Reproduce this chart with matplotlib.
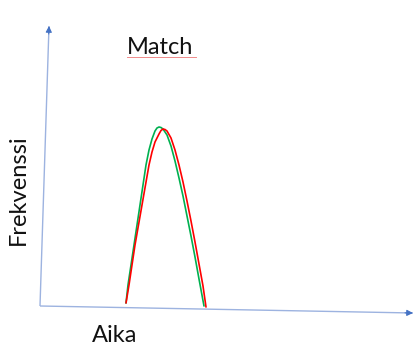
import matplotlib
matplotlib.use("Agg")
import matplotlib.pyplot as plt

# values (origin = axis corner, units ~ pixels)
green_x = [86, 88, 91, 94, 97, 100, 103, 106, 109, 112, 115, 117, 119, 121, 123, 127, 131, 135, 139, 143, 147, 151, 155, 159, 164]
green_y = [3, 21, 41, 61, 81, 101, 121, 141, 156, 167, 175, 178, 179, 178.5, 177, 171, 160, 145, 128, 110, 90, 70, 49, 27, 0]

red_x = [86, 89, 92, 95, 98.5, 102, 105.5, 109, 112, 115, 119, 121, 123, 125, 127, 131, 135, 139, 143, 147, 151, 155, 159, 163, 166]
red_y = [3, 21, 41, 61, 81, 101, 121, 141, 154, 164, 172, 175.5, 177, 176.5, 175, 168, 156, 141, 124, 105, 85, 64, 42, 20, -1]

# hand-drawn axis arrows (start, tip)
y_axis = [(0, 0), (9, 280)]
x_axis = [(0, 0), (373, -7)]

title = "Match"
xlabel = "Aika"
ylabel = "Frekvenssi"

AXIS_LINE = "#9DB3E0"
AXIS_HEAD = "#4472C4"
FONT = ["Lato", "DejaVu Sans"]

fig = plt.figure(figsize=(4.14, 3.45), dpi=100)
ax = fig.add_axes([0, 0, 1, 1])
ax.set_xlim(-40, 374)
ax.set_ylim(-39, 306)
ax.axis("off")


def draw_arrow(seg):
    (x0, y0), (x1, y1) = seg
    ax.plot([x0, x1], [y0, y1], color=AXIS_LINE, lw=1.0, solid_capstyle="butt")
    dx, dy = x1 - x0, y1 - y0
    n = (dx * dx + dy * dy) ** 0.5
    ax.annotate("", xy=(x1, y1), xytext=(x1 - dx / n * 8, y1 - dy / n * 8),
                arrowprops=dict(arrowstyle="-|>", color=AXIS_HEAD, lw=0.8,
                                mutation_scale=9, shrinkA=0, shrinkB=0))


draw_arrow(y_axis)
draw_arrow(x_axis)

ax.plot(green_x, green_y, color="#00B050", lw=1.2, solid_capstyle="round", solid_joinstyle="round")
ax.plot(red_x, red_y, color="#FF0000", lw=1.2, solid_capstyle="round", solid_joinstyle="round")

ax.text(120, 259, title, ha="center", va="center", fontsize=17, family=FONT, color="#111111")
# spell-check underline under the title
ax.plot([87, 156], [249, 249], color="#F08A8A", lw=0.7)

ax.text(-22, 116, ylabel, ha="center", va="center", rotation=90, fontsize=17,
        family=FONT, color="#111111")
ax.text(75, -29, xlabel, ha="center", va="center", fontsize=17, family=FONT, color="#111111")

fig.savefig("out.png", dpi=100)
